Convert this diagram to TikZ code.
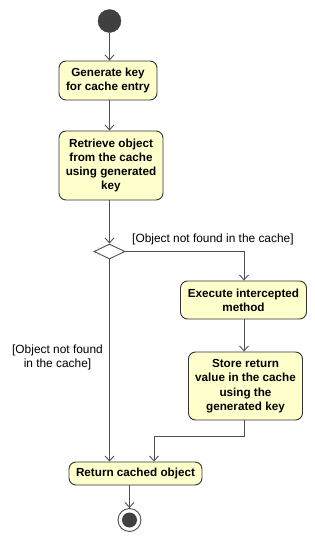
\documentclass[tikz,border=0pt]{standalone}
\usepackage{fontspec}
\setmainfont{Liberation Sans}
\usetikzlibrary{arrows.meta,shapes.geometric}
\definecolor{boxfill}{HTML}{FFFFCC}
\definecolor{lineclr}{HTML}{505050}
\definecolor{dot}{HTML}{404040}
\begin{document}
\begin{tikzpicture}[x=1pt,y=-1pt,
  act/.style={draw=black!80, line width=0.9pt, fill=boxfill, rounded corners=7pt,
    align=center, font=\fontsize{11.7}{14.3}\selectfont\bfseries, inner sep=0pt},
  arr/.style={draw=lineclr, line width=0.9pt, -{Straight Barb[length=5pt,width=9pt]}},
  lbl/.style={font=\fontsize{11.9}{14}\selectfont, inner sep=0pt}
]
\useasboundingbox (0,0) rectangle (315,542);
\fill[white] (0,0) rectangle (315,542);

\node[circle, fill=dot, draw=dot, minimum size=23pt, inner sep=0pt] (start) at (109.5,21) {};
\node[act, minimum width=98pt, minimum height=39pt] (gen) at (108,80.5) {Generate key\\for cache entry};
\node[act, minimum width=104pt, minimum height=69pt] (retr) at (111,165.5) {Retrieve object\\from the cache\\using generated\\key};
\node[diamond, draw=lineclr, line width=0.9pt, fill=white, minimum width=31pt, minimum height=15pt, inner sep=0pt, aspect=2] (dec) at (109.5,251.5) {};
\node[act, minimum width=126pt, minimum height=38pt] (exec) at (243.5,300) {Execute intercepted\\method};
\node[act, minimum width=114pt, minimum height=68pt] (store) at (245.5,386) {Store return\\value in the cache\\using the\\generated key};
\node[act, minimum width=133pt, minimum height=23pt] (ret) at (135.5,473.5) {Return cached object};
\node[circle, draw=lineclr, line width=0.9pt, fill=white, minimum size=23pt, inner sep=0pt] (end) at (129.5,520) {};
\node[circle, fill=dot, minimum size=15pt, inner sep=0pt] at (end) {};

\node[lbl, anchor=west] (l1) at (132,239) {[Object not found in the cache]};
\node[lbl, align=center] (l2) at (57.5,357) {[Object not found\\ in the cache]};

\coordinate (j1) at (154,436);
\coordinate (s1) at (244,436);

\draw[arr] (start) -- (start |- gen.north);
\draw[arr] (gen.south -| start) -- (retr.north -| start);
\draw[arr] (retr.south -| dec) -- (dec.north);
\draw[arr] (dec.east) -| (exec.north -| s1);
\draw[arr] (exec.south -| s1) -- (store.north -| s1);
\draw[arr] (store.south -| s1) -- (s1) -- (j1) -- (j1 |- ret.north);
\draw[arr] (dec.south) -- (dec |- ret.north);
\draw[arr] (ret.south -| end) -- (end.north);
\end{tikzpicture}
\end{document}
